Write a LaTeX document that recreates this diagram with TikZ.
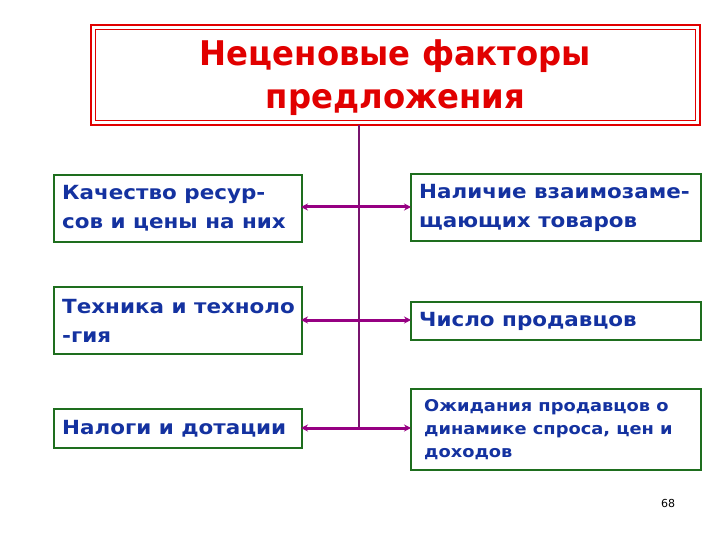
\documentclass[tikz,border=0pt]{standalone}
\usepackage{fontspec}
\setmainfont{DejaVu Sans}
\newfontfamily\boxfont{DejaVu Sans}[FakeStretch=1.1]
\newfontfamily\ttlfont{DejaVu Sans}[FakeStretch=0.95]
\usetikzlibrary{arrows.meta}
\definecolor{ttlred}{RGB}{225,0,0}
\definecolor{boxgreen}{RGB}{30,110,30}
\definecolor{txtblue}{RGB}{20,50,160}
\definecolor{linepurple}{RGB}{120,20,110}
\definecolor{arrpurple}{RGB}{150,0,130}
\tikzset{
  fbox/.style={draw=boxgreen, line width=2pt, fill=white, anchor=north west, inner sep=0pt},
  btxt/.style={anchor=west, inner sep=0pt, text=txtblue, font=\boxfont\bfseries\fontsize{19.5}{29}\selectfont, align=left},
  conn/.style={draw=arrpurple, line width=3pt, {Stealth[length=7pt,width=7pt]}-{Stealth[length=7pt,width=7pt]}},
}
\begin{document}
\begin{tikzpicture}[x=1pt,y=-1pt]
\useasboundingbox (0,0) rectangle (720,540);
% title
\draw[ttlred, line width=2.5pt] (91,25) rectangle (700,125);
\draw[ttlred, line width=0.9pt] (95.5,29.5) rectangle (695.5,120.5);
\node[text=ttlred, font=\ttlfont\bfseries\fontsize{34}{43}\selectfont, align=center] (title) at (395.5,78) {Неценовые факторы\\предложения};
\coordinate (ttlbot) at (359,125);
% boxes
\node[fbox, minimum width=248pt, minimum height=67pt] (l1) at (53,174) {};
\node[fbox, minimum width=248pt, minimum height=67pt] (l2) at (53,286) {};
\node[fbox, minimum width=248pt, minimum height=39pt] (l3) at (53,408) {};
\node[fbox, minimum width=290pt, minimum height=67pt] (r1) at (410,173) {};
\node[fbox, minimum width=290pt, minimum height=38pt] (r2) at (410,301) {};
\node[fbox, minimum width=290pt, minimum height=81pt] (r3) at (410,388) {};
% texts
\node[btxt] (t1) at ([xshift=9pt]l1.west) {Качество ресур-\\сов и цены на них};
\node[btxt] (t2) at ([xshift=9pt]l2.west) {Техника и техноло\\-гия};
\node[btxt] (t3) at ([xshift=9pt]l3.west) {Налоги и дотации};
\node[btxt] (t4) at ([xshift=9pt]r1.west) {Наличие взаимозаме-\\щающих товаров};
\node[btxt] (t5) at ([xshift=9pt]r2.west) {Число продавцов};
\node[btxt, font=\boxfont\bfseries\fontsize{16.2}{23}\selectfont] (t6) at ([xshift=14pt]r3.west) {Ожидания продавцов о\\динамике спроса, цен и\\доходов};
% trunk
\coordinate (trunkbot) at (359,428);
\draw[linepurple, line width=2pt] (ttlbot) -- (trunkbot);
% connectors
\draw[conn] ([xshift=-2pt]l1.east |- 0,207) coordinate (a1l) -- ([xshift=1pt]r1.west |- 0,207) coordinate (a1r);
\draw[conn] ([xshift=-2pt]l2.east |- 0,320) coordinate (a2l) -- ([xshift=1pt]r2.west |- 0,320) coordinate (a2r);
\draw[conn] ([xshift=-2pt]l3.east |- 0,428) coordinate (a3l) -- ([xshift=1pt]r3.west |- 0,428) coordinate (a3r);
% page number
\node[font=\fontsize{11}{13}\selectfont, text=black] (pg) at (668,503) {68};
\end{tikzpicture}
\end{document}
